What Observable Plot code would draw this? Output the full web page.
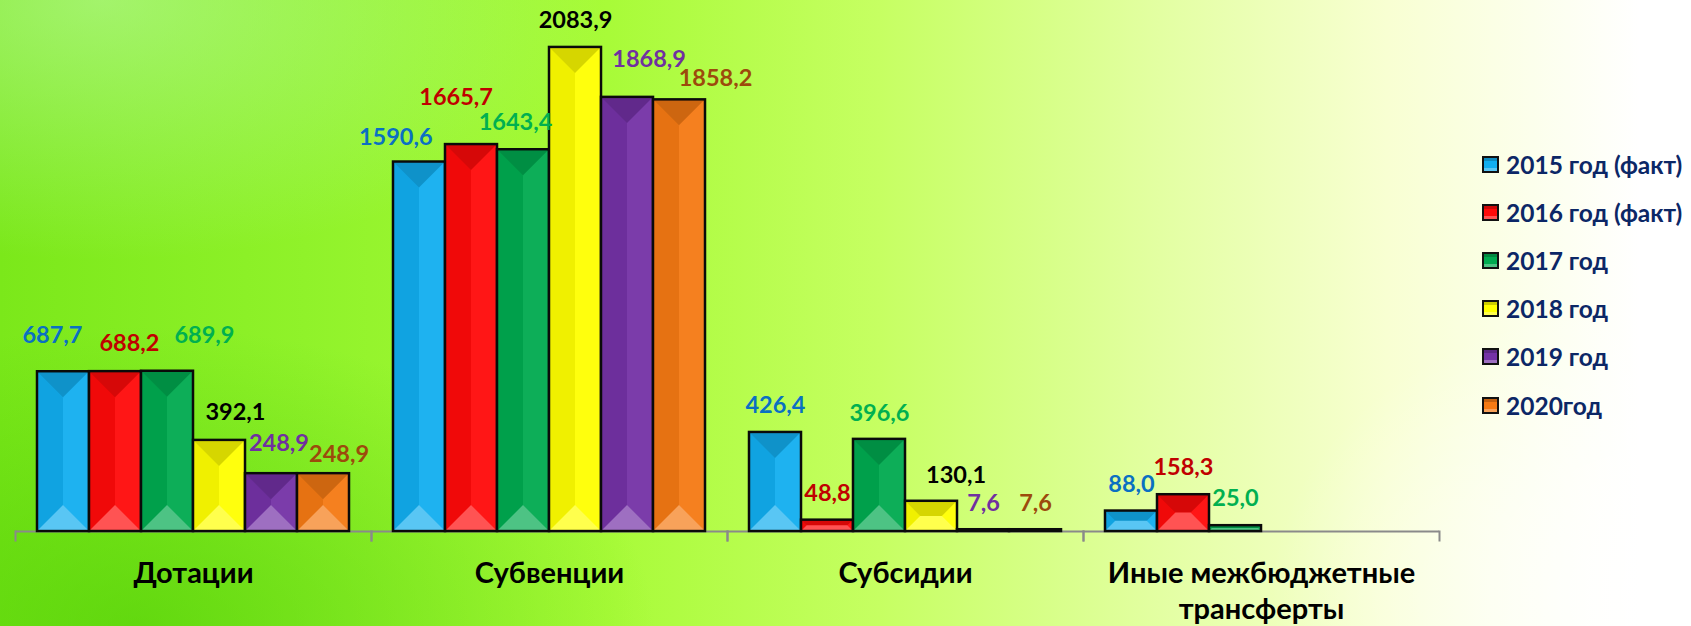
<!DOCTYPE html>
<html>
<head>
<meta charset="utf-8">
<script src="https://cdn.jsdelivr.net/npm/d3@7"></script>
<script src="https://cdn.jsdelivr.net/npm/@observablehq/plot@0.6"></script>
<style>
  html, body { margin: 0; padding: 0; }
  body {
    width: 1691px; height: 626px; overflow: hidden; position: relative;
    font-family: Lato, "Open Sans", sans-serif;
    background:
      radial-gradient(ellipse 520px 300px at 8% 100%, rgba(70,200,0,0.55), rgba(70,200,0,0) 100%),
      radial-gradient(ellipse 500px 260px at 6% 0%, rgba(190,250,170,0.55), rgba(190,250,170,0) 100%),
      radial-gradient(ellipse 420px 300px at 100% 95%, rgba(255,255,255,1), rgba(255,255,255,0) 100%),
      linear-gradient(to right, #7be81a 0%, #90f22a 18%, #a8fb38 36%, #c6ff62 52%, #e2ffa0 68%, #f8ffd2 82%, #ffffff 97%);
  }
  #chart { position: absolute; left: 0; top: 0; }
  #legend { position: absolute; left: 0; top: 0; }
  .item { position: absolute; display: flex; align-items: center; white-space: nowrap;
          font: bold 24.5px Lato, "Open Sans", sans-serif; color: #0c2766; }
  .sw { width: 13px; height: 13px; border: 2px solid #111; margin-right: 7px; box-sizing: content-box;
        box-shadow: inset 0 3px 0 rgba(0,0,0,0.2), inset 0 -3px 0 rgba(255,255,255,0.3); }
</style>
</head>
<body>
<div id="chart"></div>
<div id="legend"></div>
<script>
const categories = ["Дотации", "Субвенции", "Субсидии", "Иные межбюджетные трансферты"];
const years = ["2015 год (факт)", "2016 год (факт)", "2017 год", "2018 год", "2019 год", "2020год"];
const dotacii   = [687.7, 688.2, 689.9, 392.1, 248.9, 248.9];
const subvencii = [1590.6, 1665.7, 1643.4, 2083.9, 1868.9, 1858.2];
const subsidii  = [426.4, 48.8, 396.6, 130.1, 7.6, 7.6];
const inye      = [88.0, 158.3, 25.0, null, null, null];
const series = [dotacii, subvencii, subsidii, inye];

const barColors   = ["#12aef0", "#ff0a0a", "#00aa50", "#ffff00", "#7432a6", "#f57a14"];
const labelColors = ["#0a70c2", "#c00000", "#00b050", "#000000", "#7030a0", "#9c4a0c"];

// manual label nudges [dx, dy] in px (relative to the top of each bar), as placed in the original
const labelNudge = [
  [[-11, -36], [14, -28], [37, -35.5], [16, -28], [7.5, -30.5], [15.6, -19]],
  [[-23.7, -25], [-15.4, -47.5], [-8, -27], [0, -26.5], [21.6, -37.5], [36, -21.7]],
  [[0, -26.5], [0, -26.4], [0, -26], [24.6, -26], [0, -26], [0, -26]],
  [[0, -26.7], [0, -27], [0, -27], [0, -27], [0, -27], [0, -27]]
];

const rows = categories.flatMap((cat, i) => years.map((year, j) => ({
  cat, year, value: series[i][j], nudge: labelNudge[i][j], lc: labelColors[j]
})));
const labeled = rows.filter(d => d.value != null);

const fmt = v => v.toFixed(1).replace(".", ",");
const catFormat = c => c === "Иные межбюджетные трансферты" ? "Иные межбюджетные\nтрансферты" : c;

function bevel(index, scales, values, dimensions, context, next) {
  const g = next(index, scales, values, dimensions, context);
  const ns = "http://www.w3.org/2000/svg";
  const rects = Array.from(g.querySelectorAll("rect"));
  for (const r of rects) {
    const sw = 1.25;
    const x = +r.getAttribute("x") + sw, y = +r.getAttribute("y") + sw;
    const w = +r.getAttribute("width") - 2 * sw, h = +r.getAttribute("height") - 2 * sw;
    if (w <= 2 || h <= 2) continue;
    const b = Math.min(w / 2, h / 2, 26);
    const polys = [
      [[x, y], [x + w, y], [x + w - b, y + b], [x + b, y + b], "rgba(0,0,0,0.16)"],
      [[x, y + h], [x + w, y + h], [x + w - b, y + h - b], [x + b, y + h - b], "rgba(255,255,255,0.3)"],
      [[x, y], [x + b, y + b], [x + b, y + h - b], [x, y + h], "rgba(0,0,0,0.06)"],
      [[x + w, y], [x + w - b, y + b], [x + w - b, y + h - b], [x + w, y + h], "rgba(255,255,255,0.05)"]
    ];
    for (const p of polys) {
      const el = document.createElementNS(ns, "polygon");
      el.setAttribute("points", p.slice(0, 4).map(q => q.join(",")).join(" "));
      el.setAttribute("fill", p[4]);
      el.setAttribute("stroke", "none");
      g.appendChild(el);
    }
  }
  return g;
}

const plot = Plot.plot({
  width: 1691,
  height: 626,
  marginLeft: 13,
  marginRight: 251,
  marginTop: 0,
  marginBottom: 95,
  style: { background: "transparent", overflow: "visible", fontFamily: "Lato, 'Open Sans', sans-serif" },
  fx: { domain: categories, paddingInner: 0, paddingOuter: 0, label: null },
  x: { domain: years, paddingInner: 0, paddingOuter: 0.376, axis: null },
  y: { domain: [0, 2286], axis: null },
  color: { domain: years, range: barColors },
  marks: [
    Plot.ruleY([0], { stroke: "#8a8a8a", strokeWidth: 2 }),
    Plot.frame({ anchor: "left", stroke: "#8a8a8a", strokeWidth: 2, insetTop: 531, insetBottom: -9 }),
    Plot.frame({ anchor: "right", stroke: "#8a8a8a", strokeWidth: 2, insetTop: 531, insetBottom: -9 }),
    Plot.barY(rows, { fx: "cat", x: "year", y: "value", fill: "year", stroke: "#0a0a0a", strokeWidth: 2.5, render: bevel }),
    ...labeled.map(d => Plot.text([d], {
      fx: "cat", x: "year", y: "value", text: e => fmt(e.value),
      fill: d.lc, fontSize: 23.5, fontWeight: "bold", lineAnchor: "middle",
      dx: d.nudge[0], dy: d.nudge[1]
    })),
    Plot.axisFx({ anchor: "bottom", tickSize: 0, tickPadding: 26, fontSize: 29, fontWeight: "bold",
                  lineHeight: 1.24, fill: "#000", tickFormat: catFormat, label: null })
  ]
});
document.getElementById("chart").appendChild(plot);

const legend = document.getElementById("legend");
const legendTop = 164, legendStep = 48.2;
years.forEach((yr, j) => {
  const item = document.createElement("div");
  item.className = "item";
  item.style.left = "1482px";
  item.style.top = (legendTop + j * legendStep - 15) + "px";
  item.style.height = "30px";
  const sw = document.createElement("span");
  sw.className = "sw";
  sw.style.background = barColors[j];
  const t = document.createElement("span");
  t.textContent = yr;
  item.appendChild(sw); item.appendChild(t);
  legend.appendChild(item);
});
</script>
</body>
</html>
